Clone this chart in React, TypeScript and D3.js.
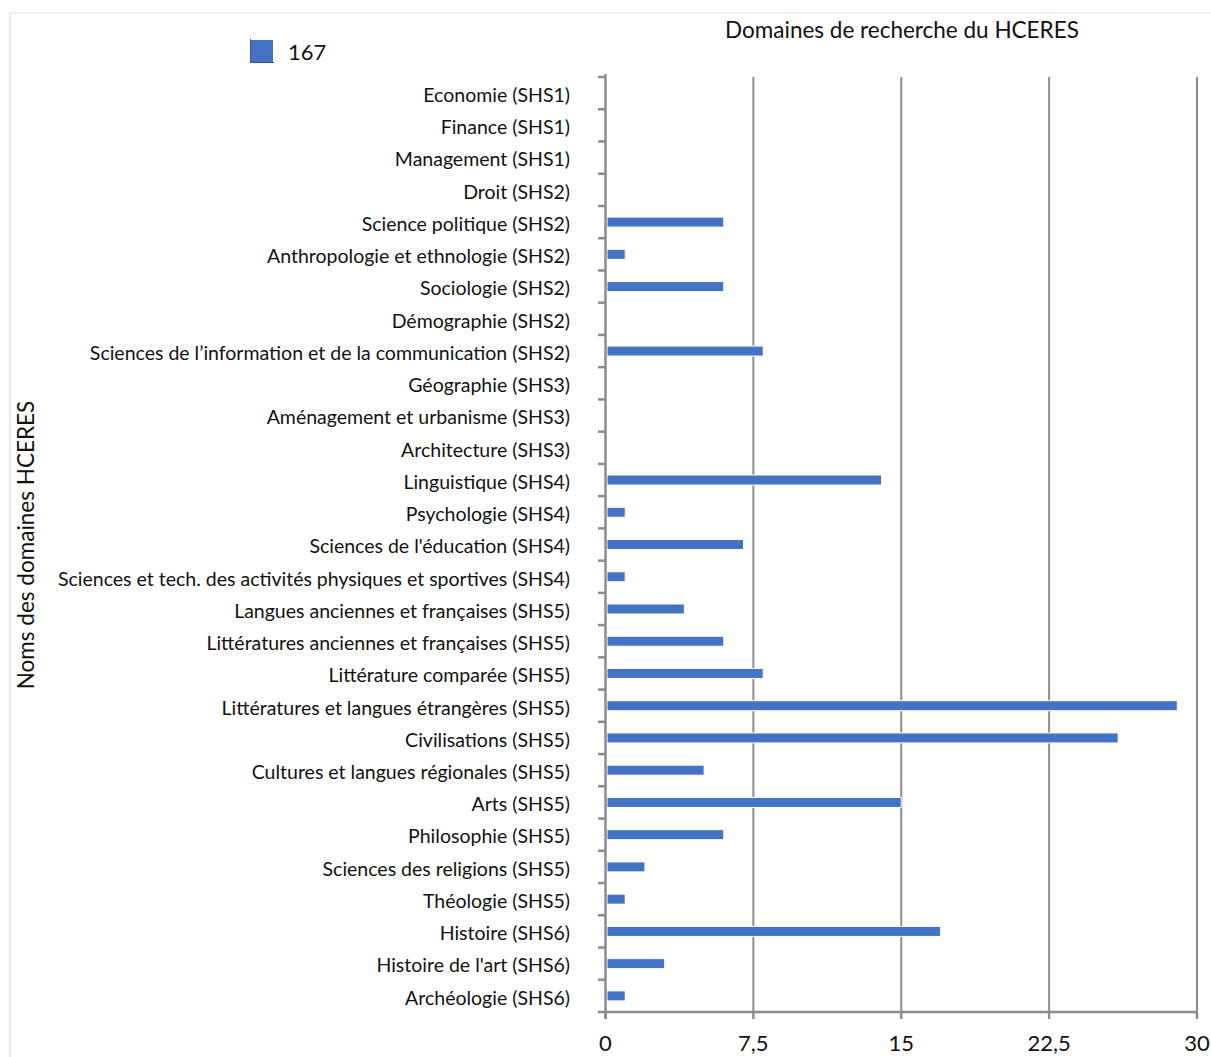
import React from 'react';
import * as d3 from 'd3';

// catégories (de haut en bas) et valeurs
const categories = [
  'Economie (SHS1)',
  'Finance (SHS1)',
  'Management (SHS1)',
  'Droit (SHS2)',
  'Science politique (SHS2)',
  'Anthropologie et ethnologie (SHS2)',
  'Sociologie (SHS2)',
  'Démographie (SHS2)',
  'Sciences de l’information et de la communication (SHS2)',
  'Géographie (SHS3)',
  'Aménagement et urbanisme (SHS3)',
  'Architecture (SHS3)',
  'Linguistique (SHS4)',
  'Psychologie (SHS4)',
  "Sciences de l'éducation (SHS4)",
  'Sciences et tech. des activités physiques et sportives (SHS4)',
  'Langues anciennes et françaises (SHS5)',
  'Littératures anciennes et françaises (SHS5)',
  'Littérature comparée (SHS5)',
  'Littératures et langues étrangères (SHS5)',
  'Civilisations (SHS5)',
  'Cultures et langues régionales (SHS5)',
  'Arts (SHS5)',
  'Philosophie (SHS5)',
  'Sciences des religions (SHS5)',
  'Théologie (SHS5)',
  'Histoire (SHS6)',
  "Histoire de l'art (SHS6)",
  'Archéologie (SHS6)',
];
const values = [0, 0, 0, 0, 6, 1, 6, 0, 8, 0, 0, 0, 14, 1, 7, 1, 4, 6, 8, 29, 26, 5, 15, 6, 2, 1, 17, 3, 1];
const xTicks = [0, 7.5, 15, 22.5, 30];
const seriesName = '167';
const chartTitle = 'Domaines de recherche du HCERES';
const yTitle = 'Noms des domaines HCERES';

const W = 1211;
const H = 1057;
const FONT = 'Lato, "Open Sans", sans-serif';

export default function App() {
  const x = d3.scaleLinear().domain([0, 30]).range([605.5, 1197]);
  const y = d3.scaleBand<string>().domain(categories).range([77, 1012]).paddingInner(0.69).paddingOuter(0.345);
  const band = d3.scaleBand<string>().domain(categories).range([77, 1012]);
  const axisColor = '#8c8c8c';
  const fmt = (v: number) => String(v).replace('.', ',');

  return (
    <svg width={W} height={H} style={{ position: 'absolute', left: 0, top: 0, background: '#fff' }}>
      {/* cadre */}
      <line x1={10} x2={W} y1={13} y2={13} stroke="#e0e0e0" strokeWidth={1} />
      <line x1={10} x2={10} y1={13} y2={H} stroke="#d9d9d9" strokeWidth={1} />

      {/* titre */}
      <text x={902} y={38} textAnchor="middle" fontFamily={FONT} fontSize={22.5} fill="#111">{chartTitle}</text>

      {/* légende */}
      <rect x={251} y={40} width={22} height={22} fill="#4472c4" />
      <path d="M250.5,39 V62.5 H274" fill="none" stroke="#2f5597" strokeWidth={1} />
      <text x={288} y={60} fontFamily={FONT} fontSize={22} fill="#111">{seriesName}</text>

      {/* grille verticale */}
      {xTicks.slice(1).map(t => (
        <line key={t} x1={x(t)} x2={x(t)} y1={77} y2={1012} stroke={axisColor} strokeWidth={2} />
      ))}

      {/* barres */}
      {categories.map((c, i) => values[i] > 0 && (
        <rect key={c} x={x(0) + 1.5} y={y(c)!} width={x(values[i]) - x(0) - 1.5} height={y.bandwidth()}
          fill="#4472c4" stroke="#fff" strokeWidth={1} />
      ))}

      {/* axe vertical */}
      <line x1={x(0)} x2={x(0)} y1={74} y2={1019} stroke={axisColor} strokeWidth={2.5} />
      {categories.map(c => (
        <line key={'t' + c} x1={598} x2={x(0)} y1={band(c)!} y2={band(c)!} stroke={axisColor} strokeWidth={2.5} />
      ))}
      <line x1={598} x2={x(0)} y1={1012} y2={1012} stroke={axisColor} strokeWidth={2.5} />
      {categories.map(c => (
        <text key={'l' + c} x={570} y={band(c)! + band.bandwidth() / 2 + 2} dy="0.35em" textAnchor="end"
          fontFamily={FONT} fontSize={19.5} fill="#111">{c}</text>
      ))}

      {/* axe horizontal */}
      <line x1={x(0)} x2={x(30) + 1} y1={1012} y2={1012} stroke={axisColor} strokeWidth={2.5} />
      {xTicks.map(t => (
        <g key={'x' + t}>
          <line x1={x(t)} x2={x(t)} y1={1012} y2={1019} stroke={axisColor} strokeWidth={2.5} />
          <text x={x(t)} y={1051} textAnchor="middle" fontFamily={FONT} fontSize={22} fill="#111">{fmt(t)}</text>
        </g>
      ))}

      {/* titre de l'axe */}
      <text transform="translate(34,545) rotate(-90)" textAnchor="middle" fontFamily={FONT} fontSize={22.5} fill="#111">{yTitle}</text>
    </svg>
  );
}
